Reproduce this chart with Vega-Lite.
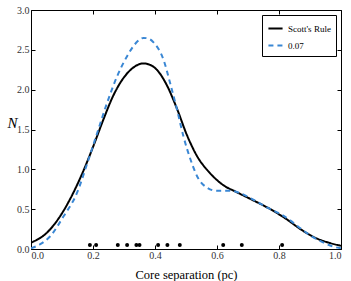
{
  "$schema": "https://vega.github.io/schema/vega-lite/v6.json",
  "width": 310,
  "height": 239,
  "autosize": "none",
  "padding": {"left": 31, "top": 10, "right": 10, "bottom": 32},
  "config": {
    "font": "Liberation Serif",
    "view": {"stroke": "#000", "strokeWidth": 1},
    "axis": {"grid": false, "domain": false, "tickColor": "#000", "tickSize": -4, "labelColor": "#333", "labelFontSize": 10, "labelFont": "Liberation Serif", "titleFont": "Liberation Serif", "titleColor": "#000", "titleFontWeight": "normal"}
  },
  "datasets": {
    "curves": [
      {"x": 0.0, "y": 0.08, "s": "Scott's Rule"},
      {"x": 0.05, "y": 0.2, "s": "Scott's Rule"},
      {"x": 0.105, "y": 0.48, "s": "Scott's Rule"},
      {"x": 0.137, "y": 0.71, "s": "Scott's Rule"},
      {"x": 0.17, "y": 0.99, "s": "Scott's Rule"},
      {"x": 0.202, "y": 1.3, "s": "Scott's Rule"},
      {"x": 0.234, "y": 1.63, "s": "Scott's Rule"},
      {"x": 0.266, "y": 1.93, "s": "Scott's Rule"},
      {"x": 0.299, "y": 2.15, "s": "Scott's Rule"},
      {"x": 0.331, "y": 2.28, "s": "Scott's Rule"},
      {"x": 0.363, "y": 2.33, "s": "Scott's Rule"},
      {"x": 0.385, "y": 2.31, "s": "Scott's Rule"},
      {"x": 0.406, "y": 2.25, "s": "Scott's Rule"},
      {"x": 0.439, "y": 2.05, "s": "Scott's Rule"},
      {"x": 0.471, "y": 1.76, "s": "Scott's Rule"},
      {"x": 0.503, "y": 1.43, "s": "Scott's Rule"},
      {"x": 0.535, "y": 1.17, "s": "Scott's Rule"},
      {"x": 0.578, "y": 0.95, "s": "Scott's Rule"},
      {"x": 0.621, "y": 0.8, "s": "Scott's Rule"},
      {"x": 0.66, "y": 0.72, "s": "Scott's Rule"},
      {"x": 0.707, "y": 0.63, "s": "Scott's Rule"},
      {"x": 0.772, "y": 0.5, "s": "Scott's Rule"},
      {"x": 0.826, "y": 0.37, "s": "Scott's Rule"},
      {"x": 0.869, "y": 0.25, "s": "Scott's Rule"},
      {"x": 0.923, "y": 0.13, "s": "Scott's Rule"},
      {"x": 0.96, "y": 0.08, "s": "Scott's Rule"},
      {"x": 1.0, "y": 0.04, "s": "Scott's Rule"},
      {"x": 0.0, "y": 0.01, "s": "0.07"},
      {"x": 0.03, "y": 0.06, "s": "0.07"},
      {"x": 0.062, "y": 0.16, "s": "0.07"},
      {"x": 0.105, "y": 0.41, "s": "0.07"},
      {"x": 0.148, "y": 0.7, "s": "0.07"},
      {"x": 0.181, "y": 1.07, "s": "0.07"},
      {"x": 0.213, "y": 1.45, "s": "0.07"},
      {"x": 0.245, "y": 1.83, "s": "0.07"},
      {"x": 0.277, "y": 2.16, "s": "0.07"},
      {"x": 0.31, "y": 2.42, "s": "0.07"},
      {"x": 0.335, "y": 2.57, "s": "0.07"},
      {"x": 0.363, "y": 2.65, "s": "0.07"},
      {"x": 0.38, "y": 2.64, "s": "0.07"},
      {"x": 0.396, "y": 2.59, "s": "0.07"},
      {"x": 0.428, "y": 2.37, "s": "0.07"},
      {"x": 0.449, "y": 2.08, "s": "0.07"},
      {"x": 0.471, "y": 1.75, "s": "0.07"},
      {"x": 0.492, "y": 1.41, "s": "0.07"},
      {"x": 0.514, "y": 1.13, "s": "0.07"},
      {"x": 0.535, "y": 0.92, "s": "0.07"},
      {"x": 0.568, "y": 0.77, "s": "0.07"},
      {"x": 0.6, "y": 0.73, "s": "0.07"},
      {"x": 0.643, "y": 0.73, "s": "0.07"},
      {"x": 0.675, "y": 0.7, "s": "0.07"},
      {"x": 0.707, "y": 0.64, "s": "0.07"},
      {"x": 0.772, "y": 0.5, "s": "0.07"},
      {"x": 0.804, "y": 0.44, "s": "0.07"},
      {"x": 0.836, "y": 0.36, "s": "0.07"},
      {"x": 0.869, "y": 0.26, "s": "0.07"},
      {"x": 0.901, "y": 0.17, "s": "0.07"},
      {"x": 0.944, "y": 0.08, "s": "0.07"},
      {"x": 0.975, "y": 0.03, "s": "0.07"},
      {"x": 1.0, "y": 0.01, "s": "0.07"}
    ],
    "cores": [
      {"x": 0.19, "y": 0.05}, {"x": 0.21, "y": 0.05}, {"x": 0.28, "y": 0.05},
      {"x": 0.31, "y": 0.05}, {"x": 0.34, "y": 0.05}, {"x": 0.35, "y": 0.05},
      {"x": 0.41, "y": 0.05}, {"x": 0.44, "y": 0.05}, {"x": 0.48, "y": 0.05},
      {"x": 0.62, "y": 0.05}, {"x": 0.68, "y": 0.05}, {"x": 0.81, "y": 0.05}
    ]
  },
  "layer": [
    {
      "data": {"name": "curves"},
      "mark": {"type": "line", "strokeWidth": 2, "clip": true, "interpolate": "monotone"},
      "encoding": {
        "x": {"field": "x", "type": "quantitative", "scale": {"domain": [0, 1], "nice": false},
          "axis": {"values": [0, 0.2, 0.4, 0.6, 0.8, 1.0], "format": ".1f", "title": "Core separation (pc)", "titleFontSize": 12.5, "titlePadding": 8, "labelPadding": 5}},
        "y": {"field": "y", "type": "quantitative", "scale": {"domain": [0, 3], "nice": false},
          "axis": {"values": [0, 0.5, 1, 1.5, 2, 2.5, 3], "format": ".1f", "title": "N", "titleFontStyle": "italic", "titleFontSize": 15, "titleAngle": 0, "titleX": -19, "titleY": 112, "titleAlign": "center", "titleBaseline": "middle", "labelPadding": 6}},
        "color": {"field": "s", "type": "nominal", "scale": {"domain": ["Scott's Rule", "0.07"], "range": ["#000000", "#3a87d4"]},
          "legend": {"title": null, "orient": "top-right", "offset": 5, "strokeColor": "#000", "fillColor": "#fff", "padding": 5, "symbolType": "stroke", "symbolStrokeWidth": 2, "symbolSize": 200, "labelFontSize": 9, "labelColor": "#000", "rowPadding": 3}},
        "strokeDash": {"field": "s", "type": "nominal", "scale": {"domain": ["Scott's Rule", "0.07"], "range": [[1, 0], [5, 4]]}, "legend": {"title": null}}
      }
    },
    {
      "data": {"name": "cores"},
      "mark": {"type": "circle", "color": "#000", "opacity": 1, "size": 16},
      "encoding": {
        "x": {"field": "x", "type": "quantitative", "axis": {"orient": "top", "values": [0, 0.2, 0.4, 0.6, 0.8, 1.0], "labels": false, "title": null}},
        "y": {"field": "y", "type": "quantitative", "axis": {"orient": "right", "values": [0, 0.5, 1, 1.5, 2, 2.5, 3], "labels": false, "title": null}}
      }
    }
  ],
  "resolve": {"axis": {"x": "independent", "y": "independent"}}
}
